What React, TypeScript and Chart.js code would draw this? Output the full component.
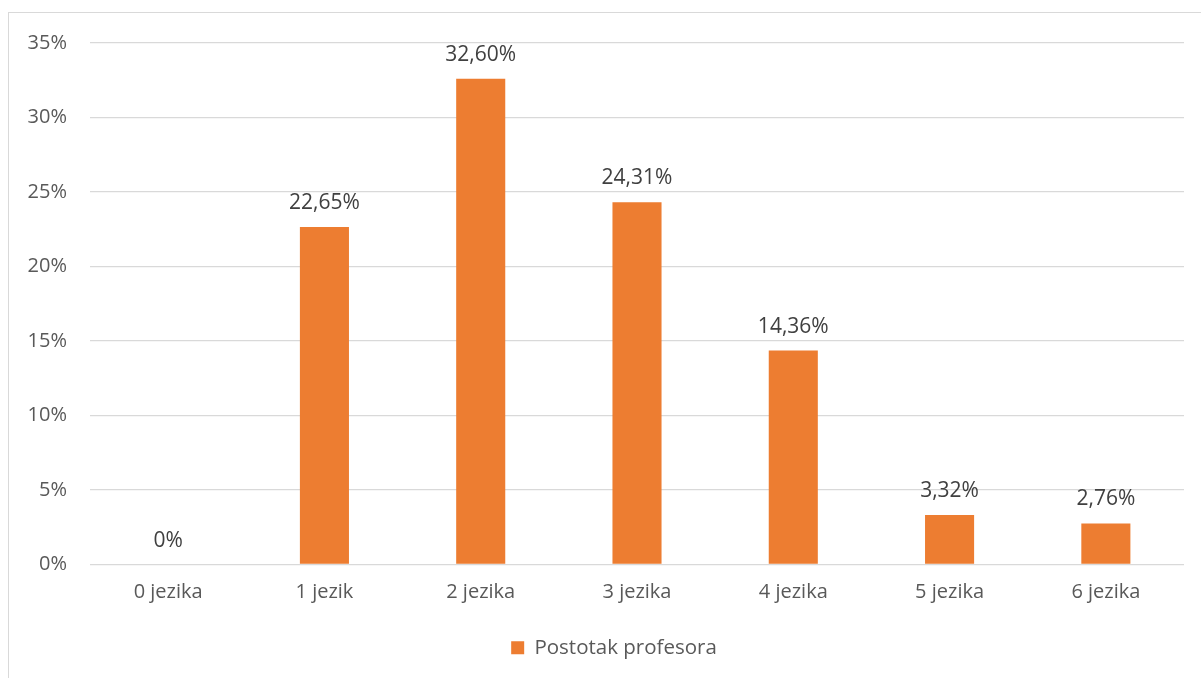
import React, { useEffect, useRef } from "react";
import { Chart, registerables } from "chart.js";

Chart.register(...registerables);

const categories = ["0 jezika", "1 jezik", "2 jezika", "3 jezika", "4 jezika", "5 jezika", "6 jezika"];
const values = [0, 22.65, 32.6, 24.31, 14.36, 3.32, 2.76];
const seriesName = "Postotak profesora";
const yTicks = [0, 5, 10, 15, 20, 25, 30, 35];

const FONT = "'Open Sans', sans-serif";

const fmt = (v: number) => (v === 0 ? "0%" : v.toFixed(2).replace(".", ",") + "%");

const dataLabelPlugin = {
  id: "dataLabels",
  afterDatasetsDraw(chart: any) {
    const ctx = chart.ctx;
    const meta = chart.getDatasetMeta(0);
    ctx.save();
    ctx.font = `21px ${FONT}`;
    ctx.fillStyle = "#404040";
    ctx.textAlign = "center";
    ctx.textBaseline = "alphabetic";
    meta.data.forEach((bar: any, i: number) => {
      ctx.fillText(fmt(values[i]), bar.x, bar.y - 18);
    });
    ctx.restore();
  },
};

const legendShiftPlugin = {
  id: "legendShift",
  afterLayout(chart: any) {
    if (chart.legend) {
      chart.legend.left += 22;
      chart.legend.right += 22;
    }
  },
};

export default function App() {
  const ref = useRef<HTMLCanvasElement>(null);
  useEffect(() => {
    if (!ref.current) return;
    const chart = new Chart(ref.current, {
      type: "bar",
      data: {
        labels: categories,
        datasets: [
          {
            label: seriesName,
            data: values,
            backgroundColor: "#ED7D31",
            borderWidth: 0,
            categoryPercentage: 1,
            barPercentage: 0.314,
          },
        ],
      },
      options: {
        animation: false,
        responsive: false,
        maintainAspectRatio: false,
        layout: { padding: { top: 43, right: 17, left: 0, bottom: 10 } },
        scales: {
          x: {
            grid: { display: false, drawTicks: false },
            border: { display: false },
            ticks: { color: "#595959", font: { family: FONT, size: 20 }, padding: 16 },
            afterFit: (s: any) => {
              s.height = 63;
            },
          },
          y: {
            min: 0,
            max: 35,
            grid: { color: "#d9d9d9", lineWidth: 1.3, drawTicks: false },
            border: { display: false },
            afterBuildTicks: (s: any) => {
              s.ticks = yTicks.map((v) => ({ value: v }));
            },
            ticks: {
              color: "#595959",
              font: { family: FONT, size: 20 },
              padding: 23,
              callback: (v: any) => v + "%",
            },
            afterFit: (s: any) => {
              s.width = 90;
            },
          },
        },
        plugins: {
          legend: {
            position: "bottom",
            labels: {
              boxWidth: 13,
              boxHeight: 13,
              color: "#595959",
              font: { family: FONT, size: 20.5 },
              padding: 10,
            },
          },
          tooltip: { enabled: false },
        },
      },
      plugins: [dataLabelPlugin, legendShiftPlugin],
    });
    return () => chart.destroy();
  }, []);
  return (
    <div style={{ position: "fixed", left: 0, top: 0, width: 1201, height: 678, overflow: "hidden", background: "#fff" }}>
      <div
        style={{
          position: "absolute",
          left: 8,
          top: 12,
          width: 1300,
          height: 800,
          border: "1.5px solid #d9d9d9",
        }}
      />
      <canvas ref={ref} width={1201} height={678} style={{ position: "absolute", left: 0, top: 0 }} />
    </div>
  );
}
